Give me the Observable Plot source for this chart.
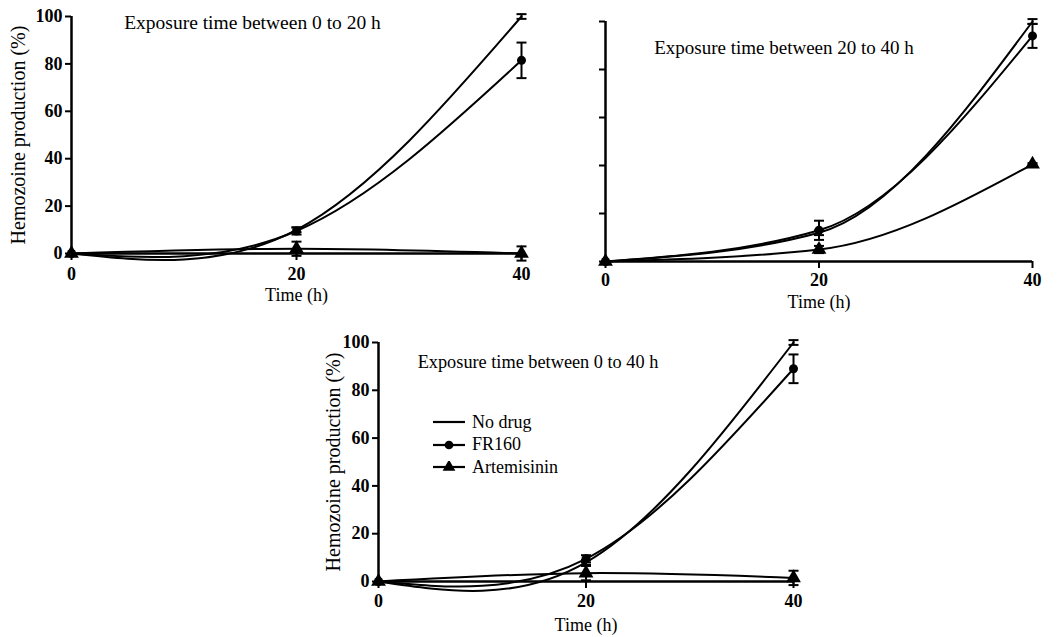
<!DOCTYPE html>
<html>
<head>
<meta charset="utf-8">
<script src="https://cdn.jsdelivr.net/npm/d3@7"></script>
<script src="https://cdn.jsdelivr.net/npm/@observablehq/plot@0.6"></script>
<style>
  html, body { margin: 0; padding: 0; background: #fff; }
  #wrap { position: relative; width: 1060px; height: 637px; background: #fff; overflow: hidden; }
  .panel { position: absolute; }
  .panel svg { overflow: visible; }
  g[aria-label="y-axis tick label"], g[aria-label="x-axis tick label"] { font-weight: bold; }
  g[aria-label="y-axis label"] { font-size: 20px; }
  .legend { position: absolute; font-family: "Liberation Serif", serif; font-size: 18px; color: #000; }
  .legend div { display: flex; align-items: center; height: 22.5px; }
  .legend svg { margin-right: 6px; }
</style>
</head>
<body>
<div id="wrap"></div>
<script>
// ---------- data ----------
const times = [0, 20, 40];
const seriesNames = ["No drug", "FR160", "Artemisinin"];
const yTicks = [0, 20, 40, 60, 80, 100];
const xTicks = [0, 20, 40];
const titles = [
  "Exposure time between 0 to 20 h",
  "Exposure time between 20 to 40 h",
  "Exposure time between 0 to 40 h"
];
const yLabel = "Hemozoine production (%)";
const xLabel = "Time (h)";

// Panel A: exposure 0-20 h
const noDrugA = [0, 10, 100];
const noDrugErrA = [0, 1, 1];
const fr160A = [0, 9.5, 81.5];
const fr160ErrA = [0, 1.5, 7.5];
const artA = [0, 2, 0];
const artErrA = [0, 3, 3];

// Panel B: exposure 20-40 h
const noDrugB = [0, 12, 100];
const noDrugErrB = [0, 1, 1];
const fr160B = [0, 13, 94];
const fr160ErrB = [0, 4, 5];
const artB = [0, 5, 40.5];
const artErrB = [0, 1.5, 0.5];

// Panel C: exposure 0-40 h
const noDrugC = [0, 8, 100];
const noDrugErrC = [0, 1, 1];
const fr160C = [0, 9.5, 89];
const fr160ErrC = [0, 1.5, 6];
const artC = [0, 3.5, 1.5];
const artErrC = [0, 3, 3];

// ---------- helpers ----------
function table(vals, errs) {
  return times.map((t, i) => ({t, v: vals[i], lo: vals[i] - errs[i], hi: vals[i] + errs[i], e: errs[i]}));
}
const capSymbol = {
  draw(context, size) {
    const w = Math.sqrt(size / Math.PI);
    context.moveTo(-w, 0);
    context.lineTo(w, 0);
  }
};

function makePanel(cfg) {
  const series = [
    {d: table(cfg.noDrug, cfg.noDrugErr), marker: null},
    {d: table(cfg.fr160, cfg.fr160Err), marker: "circle"},
    {d: table(cfg.art, cfg.artErr), marker: "triangle"}
  ];
  const marks = [];
  for (const s of series) {
    marks.push(Plot.line(s.d, {x: "t", y: "v", curve: cfg.curve, stroke: "#000", strokeWidth: 2}));
  }
  for (const s of series) {
    const eb = s.d.filter(r => r.e > 0);
    marks.push(Plot.ruleX(eb, {x: "t", y1: "lo", y2: "hi", stroke: "#000", strokeWidth: 2}));
    marks.push(Plot.dot(eb, {x: "t", y: "hi", symbol: capSymbol, r: 5, stroke: "#000", strokeWidth: 2, fill: "none"}));
    marks.push(Plot.dot(eb, {x: "t", y: "lo", symbol: capSymbol, r: 5, stroke: "#000", strokeWidth: 2, fill: "none"}));
  }
  for (const s of series) {
    if (s.marker === "circle") marks.push(Plot.dot(s.d, {x: "t", y: "v", r: 4.5, fill: "#000", stroke: "none"}));
    if (s.marker === "triangle") marks.push(Plot.dot(s.d, {x: "t", y: "v", symbol: "triangle", r: 5.5, fill: "#000", stroke: "none"}));
  }
  marks.push(Plot.ruleX([0], {stroke: "#000", strokeWidth: 2.5}));
  marks.push(Plot.ruleY([0], {stroke: "#000", strokeWidth: 2.5}));
  marks.push(Plot.axisY({
    ticks: yTicks, tickSize: 6, tickPadding: 3, strokeWidth: 2,
    tickFormat: cfg.yLabels ? d => String(d) : () => "",
    label: cfg.yLabels ? yLabel : null, labelArrow: "none", labelAnchor: "center", labelOffset: cfg.yLabelOffset
  }));
  marks.push(Plot.axisX({
    ticks: xTicks, tickSize: 7, tickPadding: cfg.xPad, strokeWidth: 2,
    label: xLabel, labelArrow: "none", labelAnchor: "center", labelOffset: cfg.xLabelOffset
  }));
  marks.push(Plot.text([cfg.title], {
    frameAnchor: "top", dx: cfg.titleDx, dy: cfg.titleDy, lineAnchor: "middle",
    fontSize: cfg.titleSize, fill: "#000"
  }));
  return Plot.plot({
    width: cfg.width, height: cfg.height,
    marginLeft: cfg.ml, marginRight: cfg.mr, marginTop: cfg.mt, marginBottom: cfg.mb,
    x: {domain: [0, 40], axis: null},
    y: {domain: [0, 100], axis: null},
    style: {fontFamily: "Liberation Serif, serif", fontSize: "18px", color: "#000", background: "transparent", overflow: "visible"},
    marks
  });
}

const panels = [
  {left: 0, top: 0, width: 540, height: 310, ml: 71, mr: 19, mt: 16, mb: 57,
   noDrug: noDrugA, noDrugErr: noDrugErrA, fr160: fr160A, fr160Err: fr160ErrA, art: artA, artErr: artErrA,
   curve: "natural", title: titles[0], titleDx: -44, titleDy: 6, titleSize: 19.5,
   yLabels: true, yLabelOffset: 61, xLabelOffset: 47, xPad: 7},
  {left: 540, top: 0, width: 520, height: 320, ml: 65, mr: 28, mt: 21, mb: 59,
   noDrug: noDrugB, noDrugErr: noDrugErrB, fr160: fr160B, fr160Err: fr160ErrB, art: artB, artErr: artErrB,
   curve: "monotone-x", title: titles[1], titleDx: -35, titleDy: 26, titleSize: 19,
   yLabels: false, yLabelOffset: 60, xLabelOffset: 46, xPad: 5},
  {left: 290, top: 320, width: 560, height: 317, ml: 88, mr: 57, mt: 22, mb: 56,
   noDrug: noDrugC, noDrugErr: noDrugErrC, fr160: fr160C, fr160Err: fr160ErrC, art: artC, artErr: artErrC,
   curve: "natural", title: titles[2], titleDx: -48, titleDy: 20, titleSize: 18.3,
   yLabels: true, yLabelOffset: 53, xLabelOffset: 49, xPad: 6}
];

const wrap = document.getElementById("wrap");
for (const p of panels) {
  const div = document.createElement("div");
  div.className = "panel";
  div.style.left = p.left + "px";
  div.style.top = p.top + "px";
  div.appendChild(makePanel(p));
  wrap.appendChild(div);
}

// legend (bottom panel)
const legend = document.createElement("div");
legend.className = "legend";
legend.style.left = "432px";
legend.style.top = "411px";
const markerKinds = [null, "circle", "triangle"];
seriesNames.forEach((name, i) => {
  const row = document.createElement("div");
  const ns = "http://www.w3.org/2000/svg";
  const svg = document.createElementNS(ns, "svg");
  svg.setAttribute("width", 34); svg.setAttribute("height", 12);
  const ln = document.createElementNS(ns, "line");
  ln.setAttribute("x1", 1); ln.setAttribute("x2", 33); ln.setAttribute("y1", 6); ln.setAttribute("y2", 6);
  ln.setAttribute("stroke", "#000"); ln.setAttribute("stroke-width", 2.2);
  svg.appendChild(ln);
  const sym = markerKinds[i] === "circle" ? d3.symbolCircle : markerKinds[i] === "triangle" ? d3.symbolTriangle : null;
  if (sym) {
    const path = document.createElementNS(ns, "path");
    path.setAttribute("d", d3.symbol(sym, markerKinds[i] === "circle" ? 60 : 70)());
    path.setAttribute("transform", "translate(17,6)");
    path.setAttribute("fill", "#000");
    svg.appendChild(path);
  }
  row.appendChild(svg);
  const span = document.createElement("span");
  span.textContent = name;
  row.appendChild(span);
  legend.appendChild(row);
});
wrap.appendChild(legend);
</script>
</body>
</html>
